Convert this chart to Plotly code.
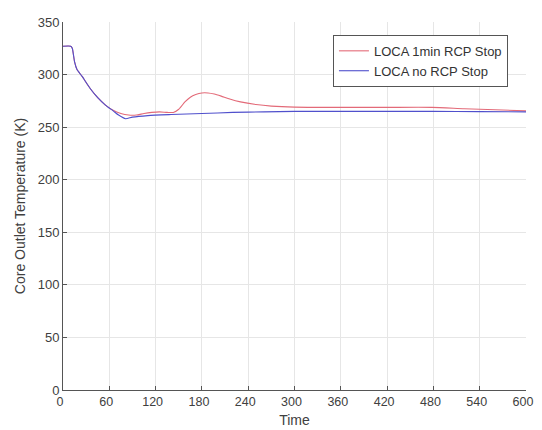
import plotly.graph_objects as go

t_red = [0, 10, 12, 15, 18, 25, 35, 45, 55, 65, 75, 85, 95, 105, 115, 125, 135, 143, 150, 158, 165, 172, 180, 188, 196, 205, 215, 230, 250, 270, 300, 360, 420, 478, 520, 560, 600]
v_red = [327, 327, 325, 312, 305, 298, 287, 278, 271, 266, 263, 261.5, 261.5, 263, 264, 264.5, 264, 264, 267, 274, 278.5, 281, 282.5, 282.5, 281.5, 279.5, 277, 274, 271.5, 270, 269, 268.8, 268.8, 268.8, 267.5, 266.5, 265.5]

t_blue = [0, 10, 12, 15, 18, 25, 35, 45, 55, 65, 72, 81, 90, 110, 140, 180, 220, 260, 300, 360, 420, 480, 540, 600]
v_blue = [327, 327, 325, 312, 305, 298, 287, 278, 271, 265.5, 261.5, 258, 259.5, 261, 262, 263, 264, 264.5, 265, 265, 265, 265, 264.8, 264.5]

x_ticks = [0, 60, 120, 180, 240, 300, 360, 420, 480, 540, 600]
y_ticks = [0, 50, 100, 150, 200, 250, 300, 350]

fig = go.Figure()
fig.add_trace(go.Scatter(x=t_red, y=v_red, mode="lines", name="LOCA 1min RCP Stop",
                         line=dict(color="#e36a78", width=1.1, shape="spline", smoothing=0.6)))
fig.add_trace(go.Scatter(x=t_blue, y=v_blue, mode="lines", name="LOCA no RCP Stop",
                         line=dict(color="#5050cc", width=1.1, shape="spline", smoothing=0.6)))

fam = "Liberation Sans, Arial, sans-serif"
axis_font = dict(family=fam, size=13, color="#404040")
fig.update_layout(
    width=534, height=422,
    margin=dict(l=55, r=16, t=14, b=40, autoexpand=False),
    paper_bgcolor="white", plot_bgcolor="white",
    font=axis_font,
    showlegend=True,
    legend=dict(x=0.961, y=0.965, xanchor="right", yanchor="top",
                bgcolor="white", bordercolor="#555555", borderwidth=1,
                font=dict(family=fam, size=13, color="#333333"),
                tracegroupgap=0),
    xaxis=dict(range=[0, 600], tickvals=x_ticks, ticks="inside", ticklen=4,
               tickcolor="#555555", showline=True, linecolor="#555555", linewidth=1,
               showgrid=True, gridcolor="#e6e6e6", zeroline=False, automargin=False,
               ticklabeloverflow="allow", tickfont=dict(size=12.5), ticklabelshift=-3,
               title=dict(text="Time", standoff=7, font=dict(family=fam, size=14, color="#404040"))),
    yaxis=dict(range=[0, 350], tickvals=y_ticks, ticks="inside", ticklen=4,
               tickcolor="#555555", showline=True, linecolor="#555555", linewidth=1,
               showgrid=True, gridcolor="#e6e6e6", zeroline=False, automargin=False,
               title=dict(text="Core Outlet Temperature (K)", standoff=8,
                          font=dict(family=fam, size=14, color="#404040"))),
)

fig.write_html("out.html")
